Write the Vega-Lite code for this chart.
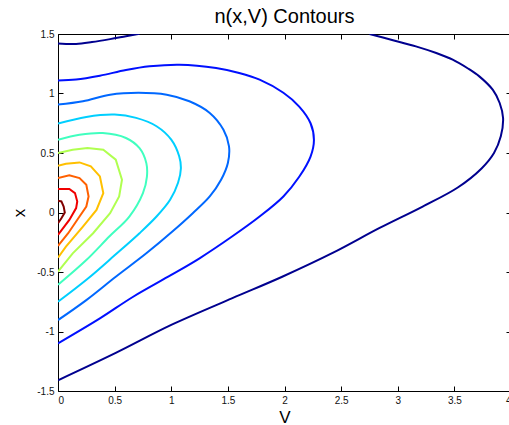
{
  "$schema": "https://vega.github.io/schema/vega-lite/v6.json",
  "width": 453,
  "height": 357,
  "autosize": {"type": "none"},
  "padding": {"left": 58, "top": 34, "right": 0, "bottom": 34},
  "background": "white",
  "title": {"text": "n(x,V) Contours", "font": "Liberation Sans", "fontSize": 20, "fontWeight": "normal", "color": "#000", "baseline": "alphabetic", "offset": -14},
  "config": {
    "view": {"stroke": null},
    "axis": {"grid": false, "domainColor": "#000", "tickColor": "#000", "labelFont": "Liberation Sans", "labelFontSize": 10, "labelColor": "#111", "titleFont": "Liberation Sans", "titleFontSize": 17, "titleFontWeight": "normal", "titleColor": "#000", "tickSize": -5, "labelPadding": 9}
  },
  "data": {"values": [
    {"c":"1a","l":1,"i":0,"v":0,"x":1.42},{"c":"1a","l":1,"i":1,"v":0.16,"x":1.416},{"c":"1a","l":1,"i":2,"v":0.3,"x":1.432},{"c":"1a","l":1,"i":3,"v":0.46,"x":1.457},{"c":"1a","l":1,"i":4,"v":0.6,"x":1.482},{"c":"1a","l":1,"i":5,"v":0.72,"x":1.503},
    {"c":"1b","l":1,"i":0,"v":2.75,"x":1.5},{"c":"1b","l":1,"i":1,"v":2.95,"x":1.45},{"c":"1b","l":1,"i":2,"v":3.16,"x":1.396},{"c":"1b","l":1,"i":3,"v":3.34,"x":1.34},{"c":"1b","l":1,"i":4,"v":3.485,"x":1.284},{"c":"1b","l":1,"i":5,"v":3.62,"x":1.21},{"c":"1b","l":1,"i":6,"v":3.72,"x":1.144},{"c":"1b","l":1,"i":7,"v":3.84,"x":1.03},{"c":"1b","l":1,"i":8,"v":3.9,"x":0.92},{"c":"1b","l":1,"i":9,"v":3.93,"x":0.794},{"c":"1b","l":1,"i":10,"v":3.91,"x":0.64},{"c":"1b","l":1,"i":11,"v":3.85,"x":0.5},{"c":"1b","l":1,"i":12,"v":3.74,"x":0.37},{"c":"1b","l":1,"i":13,"v":3.53,"x":0.21},{"c":"1b","l":1,"i":14,"v":3.22,"x":0.05},{"c":"1b","l":1,"i":15,"v":2.84,"x":-0.13},{"c":"1b","l":1,"i":16,"v":2.425,"x":-0.34},{"c":"1b","l":1,"i":17,"v":1.98,"x":-0.54},{"c":"1b","l":1,"i":18,"v":1.54,"x":-0.72},{"c":"1b","l":1,"i":19,"v":1.0,"x":-0.945},{"c":"1b","l":1,"i":20,"v":0.51,"x":-1.18},{"c":"1b","l":1,"i":21,"v":0,"x":-1.41},
    {"c":"2","l":2,"i":0,"v":0,"x":1.11},{"c":"2","l":2,"i":1,"v":0.16,"x":1.118},{"c":"2","l":2,"i":2,"v":0.37,"x":1.15},{"c":"2","l":2,"i":3,"v":0.6,"x":1.197},{"c":"2","l":2,"i":4,"v":0.808,"x":1.228},{"c":"2","l":2,"i":5,"v":1.072,"x":1.242},{"c":"2","l":2,"i":6,"v":1.396,"x":1.214},{"c":"2","l":2,"i":7,"v":1.6,"x":1.172},{"c":"2","l":2,"i":8,"v":1.78,"x":1.116},{"c":"2","l":2,"i":9,"v":1.99,"x":1.006},{"c":"2","l":2,"i":10,"v":2.13,"x":0.89},{"c":"2","l":2,"i":11,"v":2.23,"x":0.75},{"c":"2","l":2,"i":12,"v":2.26,"x":0.61},{"c":"2","l":2,"i":13,"v":2.23,"x":0.47},{"c":"2","l":2,"i":14,"v":2.13,"x":0.3},{"c":"2","l":2,"i":15,"v":1.99,"x":0.135},{"c":"2","l":2,"i":16,"v":1.78,"x":-0.034},{"c":"2","l":2,"i":17,"v":1.54,"x":-0.2},{"c":"2","l":2,"i":18,"v":1.25,"x":-0.385},{"c":"2","l":2,"i":19,"v":1.0,"x":-0.525},{"c":"2","l":2,"i":20,"v":0.66,"x":-0.71},{"c":"2","l":2,"i":21,"v":0.37,"x":-0.89},{"c":"2","l":2,"i":22,"v":0,"x":-1.1},
    {"c":"3","l":3,"i":0,"v":0,"x":0.907},{"c":"3","l":3,"i":1,"v":0.22,"x":0.935},{"c":"3","l":3,"i":2,"v":0.46,"x":0.99},{"c":"3","l":3,"i":3,"v":0.71,"x":1.006},{"c":"3","l":3,"i":4,"v":0.96,"x":0.99},{"c":"3","l":3,"i":5,"v":1.16,"x":0.935},{"c":"3","l":3,"i":6,"v":1.34,"x":0.837},{"c":"3","l":3,"i":7,"v":1.46,"x":0.697},{"c":"3","l":3,"i":8,"v":1.51,"x":0.556},{"c":"3","l":3,"i":9,"v":1.5,"x":0.416},{"c":"3","l":3,"i":10,"v":1.44,"x":0.275},{"c":"3","l":3,"i":11,"v":1.34,"x":0.135},{"c":"3","l":3,"i":12,"v":1.19,"x":-0.006},{"c":"3","l":3,"i":13,"v":1.01,"x":-0.16},{"c":"3","l":3,"i":14,"v":0.78,"x":-0.343},{"c":"3","l":3,"i":15,"v":0.51,"x":-0.54},{"c":"3","l":3,"i":16,"v":0.25,"x":-0.736},{"c":"3","l":3,"i":17,"v":0,"x":-0.904},
    {"c":"4","l":4,"i":0,"v":0,"x":0.747},{"c":"4","l":4,"i":1,"v":0.25,"x":0.803},{"c":"4","l":4,"i":2,"v":0.5,"x":0.823},{"c":"4","l":4,"i":3,"v":0.69,"x":0.795},{"c":"4","l":4,"i":4,"v":0.87,"x":0.725},{"c":"4","l":4,"i":5,"v":1.0,"x":0.612},{"c":"4","l":4,"i":6,"v":1.07,"x":0.472},{"c":"4","l":4,"i":7,"v":1.085,"x":0.37},{"c":"4","l":4,"i":8,"v":1.06,"x":0.25},{"c":"4","l":4,"i":9,"v":0.99,"x":0.107},{"c":"4","l":4,"i":10,"v":0.87,"x":-0.034},{"c":"4","l":4,"i":11,"v":0.72,"x":-0.174},{"c":"4","l":4,"i":12,"v":0.5,"x":-0.36},{"c":"4","l":4,"i":13,"v":0.27,"x":-0.55},{"c":"4","l":4,"i":14,"v":0,"x":-0.75},
    {"c":"5","l":5,"i":0,"v":0,"x":0.611},{"c":"5","l":5,"i":1,"v":0.19,"x":0.653},{"c":"5","l":5,"i":2,"v":0.395,"x":0.668},{"c":"5","l":5,"i":3,"v":0.6,"x":0.626},{"c":"5","l":5,"i":4,"v":0.72,"x":0.54},{"c":"5","l":5,"i":5,"v":0.78,"x":0.415},{"c":"5","l":5,"i":6,"v":0.785,"x":0.3},{"c":"5","l":5,"i":7,"v":0.75,"x":0.163},{"c":"5","l":5,"i":8,"v":0.63,"x":-0.034},{"c":"5","l":5,"i":9,"v":0.455,"x":-0.2},{"c":"5","l":5,"i":10,"v":0.25,"x":-0.4},{"c":"5","l":5,"i":11,"v":0,"x":-0.608},
    {"c":"6","l":6,"i":0,"v":0,"x":0.5},{"c":"6","l":6,"i":1,"v":0.13,"x":0.528},{"c":"6","l":6,"i":2,"v":0.26,"x":0.542},{"c":"6","l":6,"i":3,"v":0.4,"x":0.528},{"c":"6","l":6,"i":4,"v":0.51,"x":0.444},{"c":"6","l":6,"i":5,"v":0.565,"x":0.275},{"c":"6","l":6,"i":6,"v":0.54,"x":0.135},{"c":"6","l":6,"i":7,"v":0.46,"x":-0.006},{"c":"6","l":6,"i":8,"v":0.31,"x":-0.174},{"c":"6","l":6,"i":9,"v":0.13,"x":-0.343},{"c":"6","l":6,"i":10,"v":0,"x":-0.497},
    {"c":"7","l":7,"i":0,"v":0,"x":0.393},{"c":"7","l":7,"i":1,"v":0.07,"x":0.41},{"c":"7","l":7,"i":2,"v":0.19,"x":0.421},{"c":"7","l":7,"i":3,"v":0.29,"x":0.388},{"c":"7","l":7,"i":4,"v":0.37,"x":0.303},{"c":"7","l":7,"i":5,"v":0.4,"x":0.163},{"c":"7","l":7,"i":6,"v":0.34,"x":0.022},{"c":"7","l":7,"i":7,"v":0.22,"x":-0.118},{"c":"7","l":7,"i":8,"v":0.07,"x":-0.287},{"c":"7","l":7,"i":9,"v":0,"x":-0.379},
    {"c":"8","l":8,"i":0,"v":0,"x":0.289},{"c":"8","l":8,"i":1,"v":0.1,"x":0.312},{"c":"8","l":8,"i":2,"v":0.19,"x":0.289},{"c":"8","l":8,"i":3,"v":0.25,"x":0.233},{"c":"8","l":8,"i":4,"v":0.27,"x":0.135},{"c":"8","l":8,"i":5,"v":0.25,"x":0.05},{"c":"8","l":8,"i":6,"v":0.19,"x":-0.034},{"c":"8","l":8,"i":7,"v":0.09,"x":-0.174},{"c":"8","l":8,"i":8,"v":0,"x":-0.281},
    {"c":"9","l":9,"i":0,"v":0,"x":0.197},{"c":"9","l":9,"i":1,"v":0.1,"x":0.197},{"c":"9","l":9,"i":2,"v":0.15,"x":0.163},{"c":"9","l":9,"i":3,"v":0.17,"x":0.093},{"c":"9","l":9,"i":4,"v":0.16,"x":0.037},{"c":"9","l":9,"i":5,"v":0.1,"x":-0.062},{"c":"9","l":9,"i":6,"v":0,"x":-0.188},
    {"c":"10","l":10,"i":0,"v":0,"x":0.098},{"c":"10","l":10,"i":1,"v":0.03,"x":0.093},{"c":"10","l":10,"i":2,"v":0.05,"x":0.05},{"c":"10","l":10,"i":3,"v":0.06,"x":0},{"c":"10","l":10,"i":4,"v":0.03,"x":-0.048},{"c":"10","l":10,"i":5,"v":0,"x":-0.09}
  ]},
  "resolve": {"axis": {"x": "independent", "y": "independent"}},
  "layer": [
    {
      "transform": [{"filter": "datum.l <= 5"}],
      "mark": {"type": "line", "interpolate": "catmull-rom", "strokeWidth": 2, "clip": true},
      "encoding": {
        "x": {"field": "v", "type": "quantitative", "scale": {"domain": [0, 4], "nice": false, "zero": false}, "axis": {"orient": "bottom", "title": "V", "values": [0, 0.5, 1, 1.5, 2, 2.5, 3, 3.5, 4], "labelExpr": "'' + datum.value", "titlePadding": 4}},
        "y": {"field": "x", "type": "quantitative", "scale": {"domain": [-1.5, 1.5], "nice": false, "zero": false}, "axis": {"orient": "left", "title": "x", "values": [-1.5, -1, -0.5, 0, 0.5, 1, 1.5], "labelExpr": "'' + datum.value", "titlePadding": 8}},
        "detail": {"field": "c"},
        "order": {"field": "i", "type": "quantitative"},
        "color": {"field": "l", "type": "ordinal", "legend": null, "scale": {"domain": [1, 2, 3, 4, 5, 6, 7, 8, 9, 10], "range": ["#00008F", "#0010FF", "#0068FF", "#00CFFF", "#40FFBF", "#B0FF50", "#FFC000", "#FF6000", "#F00000", "#800000"]}}
      }
    },
    {
      "transform": [{"filter": "datum.l > 5"}],
      "mark": {"type": "line", "interpolate": "linear", "strokeWidth": 2, "clip": true},
      "encoding": {
        "x": {"field": "v", "type": "quantitative", "scale": {"domain": [0, 4], "nice": false, "zero": false}, "axis": {"orient": "top", "title": null, "labels": false, "labelPadding": 0, "values": [0, 0.5, 1, 1.5, 2, 2.5, 3, 3.5, 4]}},
        "y": {"field": "x", "type": "quantitative", "scale": {"domain": [-1.5, 1.5], "nice": false, "zero": false}, "axis": {"orient": "right", "title": null, "labels": false, "labelPadding": 0, "values": [-1.5, -1, -0.5, 0, 0.5, 1, 1.5]}},
        "detail": {"field": "c"},
        "order": {"field": "i", "type": "quantitative"},
        "color": {"field": "l", "type": "ordinal", "legend": null}
      }
    }
  ]
}
